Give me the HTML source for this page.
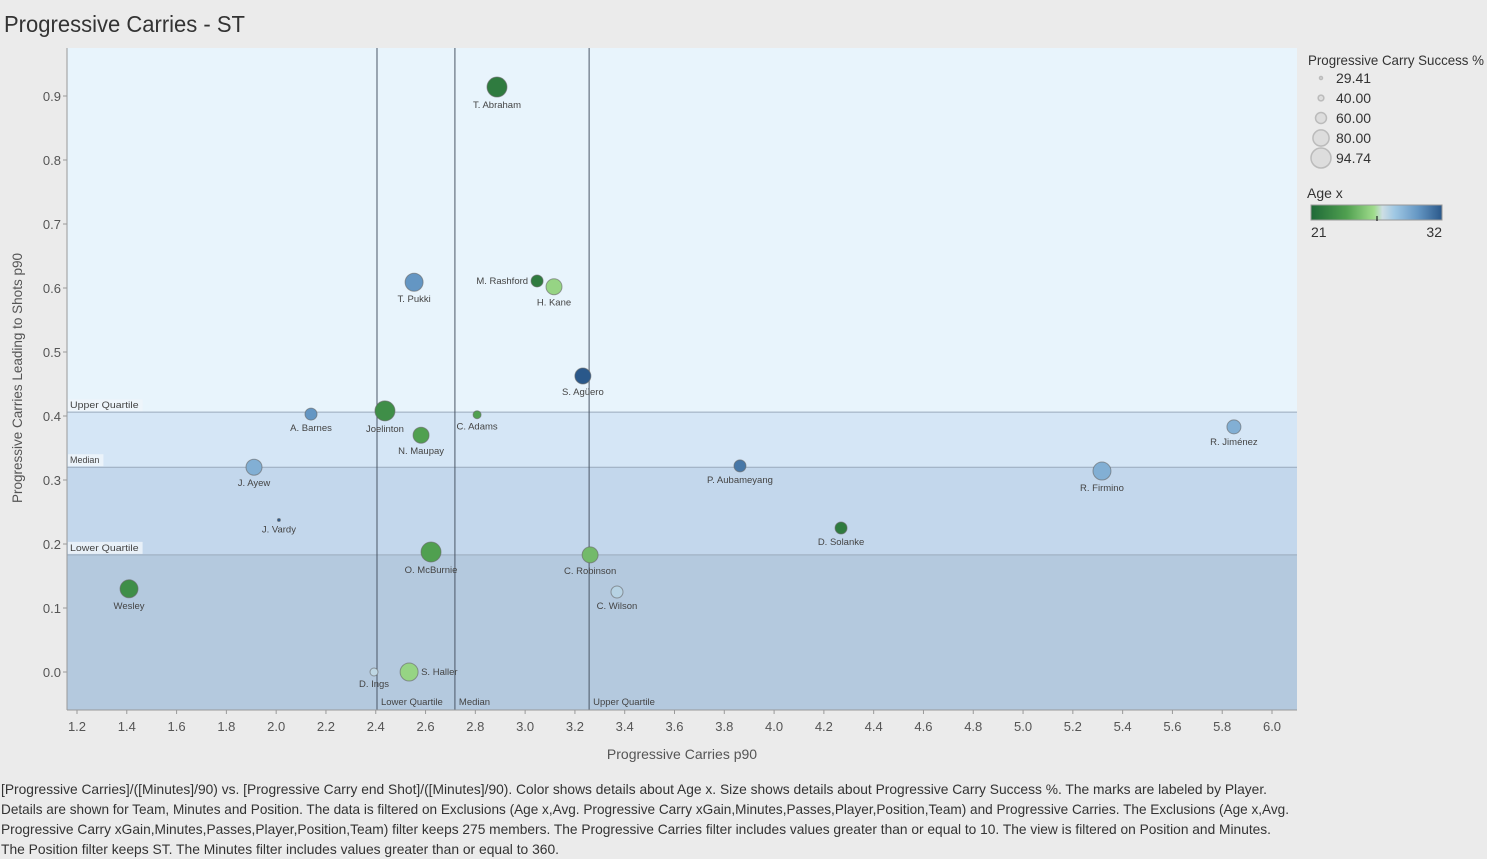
<!DOCTYPE html>
<html><head><meta charset="utf-8">
<style>
body{margin:0;background:#ebebeb;font-family:"Liberation Sans",sans-serif;}
#wrap{position:relative;width:1487px;height:859px;overflow:hidden}
</style></head>
<body><div id="wrap">
<svg id="svg" width="1487" height="859" style="position:absolute;left:0;top:0"></svg>
</div>
<script>
const players=["T. Abraham","T. Pukki","M. Rashford","H. Kane","S. Agüero","A. Barnes","Joelinton","C. Adams","N. Maupay","R. Jiménez","J. Ayew","P. Aubameyang","R. Firmino","J. Vardy","D. Solanke","O. McBurnie","C. Robinson","C. Wilson","Wesley","D. Ings","S. Haller"];
const carries=[2.887,2.554,3.048,3.116,3.232,2.14,2.437,2.807,2.582,5.847,1.911,3.863,5.317,2.011,4.269,2.622,3.261,3.369,1.409,2.393,2.534];
const shots=[0.914,0.609,0.611,0.602,0.4625,0.403,0.408,0.402,0.370,0.383,0.320,0.322,0.314,0.2375,0.225,0.1875,0.183,0.125,0.130,0.0,0.0];
const success=[94.7,87,64,79.4,79.4,64,94.7,48.6,79.4,71.7,79.4,64,87,29.41,64,94.7,79.4,64,87,48.6,87];
const ages=[22,30,22,26,32,30,23,24,24,29,29,31,29,33,22,24,25,27.5,23,27.3,26];
const xTicks=[1.2,1.4,1.6,1.8,2.0,2.2,2.4,2.6,2.8,3.0,3.2,3.4,3.6,3.8,4.0,4.2,4.4,4.6,4.8,5.0,5.2,5.4,5.6,5.8,6.0];
const yTicks=[0.0,0.1,0.2,0.3,0.4,0.5,0.6,0.7,0.8,0.9];
const yRefs=[0.406,0.320,0.183];
const yRefNames=["Upper Quartile","Median","Lower Quartile"];
const xRefs=[2.405,2.718,3.257];
const xRefNames=["Lower Quartile","Median","Upper Quartile"];
const sizeLegend=[29.41,40,60,80,94.74];

const L=67,R=1297,T=48,B=710;
const X=v=>77+(v-1.2)*248.96;
const Y=v=>672-v*640;
const rad=p=>1.5+(p-29.41)/(94.74-29.41)*8.5;
function lerp(a,b,t){return a.map((v,i)=>Math.round(v+(b[i]-v)*t));}
function col(a){
 const stops=[[21,[30,105,55]],[24,[80,160,80]],[26.3,[160,220,140]],[27,[205,222,228]],[28,[160,200,228]],[30,[100,150,195]],[32,[42,88,138]]];
 a=Math.max(21,Math.min(32,a));
 for(let i=0;i<stops.length-1;i++){if(a<=stops[i+1][0]){const t=(a-stops[i][0])/(stops[i+1][0]-stops[i][0]);const c=lerp(stops[i][1],stops[i+1][1],t);return `rgb(${c})`;}}
 return 'rgb(42,88,138)';
}
const svg=document.getElementById('svg');const NS='http://www.w3.org/2000/svg';
function el(tag,attrs,parent){const e=document.createElementNS(NS,tag);for(const k in attrs)e.setAttribute(k,attrs[k]);(parent||svg).appendChild(e);return e;}
function txt(s,attrs){const t=el('text',Object.assign({'font-family':'Liberation Sans, sans-serif',fill:'#555'},attrs));t.textContent=s;return t;}

let t=txt('Progressive Carries - ST',{x:4,y:32,'font-size':23,fill:'#333',textLength:241,lengthAdjust:'spacingAndGlyphs'});

const bandCols=['#e8f4fc','#d5e6f6','#c3d7ec','#b4c9de'];
const edges=[T,Y(yRefs[0]),Y(yRefs[1]),Y(yRefs[2]),B];
for(let i=0;i<4;i++){const r=el('rect',{x:L,y:edges[i],width:R-L,height:edges[i+1]-edges[i],fill:bandCols[i]});
}
yRefs.forEach((v,i)=>{const l=el('line',{x1:L,x2:R,y1:Y(v),y2:Y(v),stroke:'#9aaabb','stroke-width':1});

const w=yRefNames[i].length*4.9+6;el('rect',{x:L+1,y:Y(v)-13,width:w,height:12,fill:'#eef4fa',opacity:0.85});
const tt=txt(yRefNames[i],{x:L+3,y:Y(v)-4,'font-size':9.5,fill:'#444',textLength:w-6,lengthAdjust:'spacingAndGlyphs'});
});
xRefs.forEach((v,i)=>{const l=el('line',{x1:X(v),x2:X(v),y1:T,y2:B,stroke:'#4a5666','stroke-width':1});

const tt=txt(xRefNames[i],{x:X(v)+4,y:705,'font-size':9.5,fill:'#444'});
});
el('line',{x1:L,x2:L,y1:T,y2:B,stroke:'#999'});el('line',{x1:L,x2:R,y1:B,y2:B,stroke:'#999'});
xTicks.forEach(v=>{el('line',{x1:X(v),x2:X(v),y1:B,y2:B+4,stroke:'#999'});
const tt=txt(v.toFixed(1),{x:X(v),y:731,'font-size':13,'text-anchor':'middle'});
});
yTicks.forEach(v=>{el('line',{x1:L-4,x2:L,y1:Y(v),y2:Y(v),stroke:'#999'});
const tt=txt(v.toFixed(1),{x:L-6,y:Y(v)+5,'font-size':13,'text-anchor':'end'});
});
t=txt('Progressive Carries p90',{x:682,y:759,'font-size':14,'text-anchor':'middle'});

t=txt('Progressive Carries Leading to Shots p90',{x:0,y:0,'font-size':14,'text-anchor':'middle',transform:'translate(22,378) rotate(-90)',textLength:250,lengthAdjust:'spacingAndGlyphs'});

players.forEach((p,i)=>{const cx=X(carries[i]),cy=Y(shots[i]),r=rad(success[i]);
const c=el('circle',{cx:cx,cy:cy,r:r,fill:col(ages[i]),stroke:'#666','stroke-opacity':0.6});

let a={x:cx,y:cy+r+11,'font-size':9.5,'text-anchor':'middle',fill:'#444'};
if(p==='M. Rashford'){a={x:cx-r-3,y:cy+3,'font-size':9.5,'text-anchor':'end',fill:'#444'};}
if(p==='S. Haller'){a={x:cx+r+3,y:cy+3,'font-size':9.5,'text-anchor':'start',fill:'#444'};}
const tt=txt(p,a);
});
t=txt('Progressive Carry Success %',{x:1308,y:65,'font-size':14,fill:'#333',textLength:176,lengthAdjust:'spacingAndGlyphs'});

sizeLegend.forEach((v,i)=>{const y=78+i*20;el('circle',{cx:1321,cy:y,r:rad(v),fill:'#ddd',stroke:'#bbb','stroke-width':1.5});
const tt=txt(v.toFixed(2),{x:1336,y:y+5,'font-size':14,fill:'#333'});
});
t=txt('Age x',{x:1307,y:198,'font-size':14,fill:'#333'});

const g=el('linearGradient',{id:'ag'},el('defs',{}));
[21,24,26.3,27,28,30,32].forEach(a=>el('stop',{offset:((a-21)/11*100)+'%','stop-color':col(a)},g));
const cr=el('rect',{x:1311,y:205,width:131,height:15,fill:'url(#ag)',stroke:'#999'});

el('line',{x1:1377,x2:1377,y1:216,y2:221,stroke:'#000'});
txt('21',{x:1311,y:237,'font-size':14,fill:'#333'});txt('32',{x:1442,y:237,'font-size':14,fill:'#333','text-anchor':'end'});
const capLines=["[Progressive Carries]/([Minutes]/90) vs. [Progressive Carry end Shot]/([Minutes]/90).  Color shows details about Age x.  Size shows details about Progressive Carry Success %.  The marks are labeled by Player.",
"Details are shown for Team, Minutes and Position. The data is filtered on Exclusions (Age x,Avg. Progressive Carry xGain,Minutes,Passes,Player,Position,Team) and Progressive Carries. The Exclusions (Age x,Avg.",
"Progressive Carry xGain,Minutes,Passes,Player,Position,Team) filter keeps 275 members. The Progressive Carries filter includes values greater than or equal to 10. The view is filtered on Position and Minutes.",
"The Position filter keeps ST. The Minutes filter includes values greater than or equal to 360."];
const capW=[1266,1288,1270,558];
capLines.forEach((s,i)=>{const tt=txt(s,{x:1,y:794+i*20,'font-size':14,fill:'#333',textLength:capW[i],lengthAdjust:'spacingAndGlyphs'});
});
</script></body></html>
